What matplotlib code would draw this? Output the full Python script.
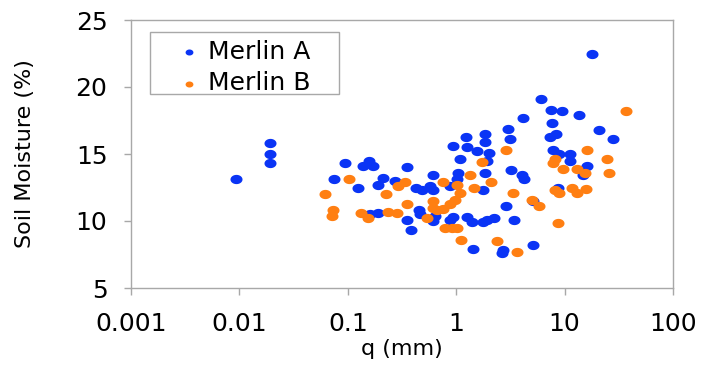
import matplotlib
matplotlib.use('Agg')
import matplotlib.pyplot as plt
import numpy as np
from matplotlib.path import Path
from matplotlib.patches import Rectangle

# Merlin A (blue)
blue_q = [0.0093, 0.019, 0.019, 0.019, 0.094, 0.075, 0.125, 0.137, 0.158, 0.172,
          0.213, 0.189, 0.272, 0.349, 0.426, 0.481, 0.573, 0.615, 0.615, 0.189,
          0.160, 0.349, 0.383, 0.457, 0.607, 17.8, 6.03, 7.50, 9.53, 13.6,
          4.16, 7.60, 20.9, 27.8, 3.03, 3.13, 7.33, 8.33, 1.23, 1.85,
          1.85, 0.93, 1.25, 1.57, 2.0, 1.08, 1.94, 7.76, 8.93, 11.2,
          11.2, 16.2, 14.7, 1.04, 1.01, 1.85, 1.75, 3.2, 4.02, 4.22,
          0.463, 0.637, 0.877, 0.94, 1.25, 1.39, 1.75, 1.94, 2.23, 2.88,
          3.41, 1.42, 2.69, 2.64, 5.14, 5.14, 8.75, 14.4, 0.88]
blue_sm = [13.1, 15.8, 15.0, 14.3, 14.3, 13.1, 12.5, 14.1, 14.5, 14.1,
           13.2, 12.7, 13.0, 14.0, 12.5, 12.3, 12.6, 12.3, 13.4, 10.6,
           10.5, 10.1, 9.3, 10.8, 10.0, 22.5, 19.1, 18.3, 18.2, 17.9,
           17.7, 17.3, 16.8, 16.1, 16.9, 16.1, 16.3, 16.5, 16.3, 16.5,
           15.9, 15.6, 15.5, 15.2, 15.1, 14.6, 14.5, 15.3, 15.0, 15.0,
           14.5, 14.1, 13.4, 13.6, 13.1, 13.6, 12.3, 13.8, 13.4, 13.1,
           10.5, 10.4, 10.1, 10.3, 10.3, 9.9, 9.9, 10.1, 10.2, 11.1,
           10.1, 7.9, 7.8, 7.6, 8.2, 11.5, 12.5, 13.8, 12.6]

# Merlin B (orange)
orange_q = [0.062, 0.073, 0.071, 0.103, 0.132, 0.153, 0.225, 0.237, 0.282, 0.292,
            0.337, 0.349, 0.535, 0.615, 0.615, 36.8, 2.88, 1.72, 16.0, 8.15,
            7.76, 9.73, 12.9, 15.4, 24.4, 25.8, 1.34, 2.08, 1.46, 0.76,
            1.01, 1.08, 0.975, 0.877, 0.76, 0.66, 3.37, 4.97, 5.84, 8.15,
            8.93, 11.6, 12.9, 15.7, 8.75, 0.79, 0.91, 1.01, 1.11, 2.36,
            3.61]
orange_sm = [12.0, 10.8, 10.4, 13.1, 10.6, 10.2, 12.0, 10.7, 10.6, 12.6,
             12.9, 11.3, 10.2, 11.5, 11.0, 18.2, 15.3, 14.4, 15.3, 14.6,
             14.3, 13.9, 13.9, 13.6, 14.6, 13.6, 13.4, 12.9, 12.5, 12.9,
             12.7, 12.1, 11.6, 11.3, 10.9, 10.8, 12.1, 11.6, 11.1, 12.3,
             12.1, 12.5, 12.1, 12.4, 9.85, 9.5, 9.5, 9.5, 8.6, 8.5,
             7.7]

x_ticks = [0.001, 0.01, 0.1, 1, 10, 100]
x_labels = ['0.001', '0.01', '0.1', '1', '10', '100']
y_ticks = [5, 10, 15, 20, 25]

blue = '#0a34f5'
orange = '#ff7f12'
grey = '#a8a8a8'

# slightly wide dots, like the original
t = np.linspace(0, 2 * np.pi, 60)
dot = Path(np.column_stack([1.3 * np.cos(t), np.sin(t)]), closed=True)

fig = plt.figure(figsize=(7.01, 3.66), dpi=100)
ax = fig.add_axes([131 / 701, 1 - 288 / 366, 542 / 701, 268 / 366])

ax.scatter(blue_q, blue_sm, s=75, marker=dot, color=blue, linewidths=0, label='Merlin A')
ax.scatter(orange_q, orange_sm, s=75, marker=dot, color=orange, linewidths=0, label='Merlin B')

ax.set_xscale('log')
ax.set_xlim(0.001, 100)
ax.set_ylim(5, 25)
ax.set_xticks(x_ticks)
ax.set_xticklabels(x_labels)
ax.minorticks_off()
ax.set_yticks(y_ticks)

for sp in ax.spines.values():
    sp.set_color(grey)
    sp.set_linewidth(1.0)
ax.tick_params(axis='both', direction='out', length=5, width=1.0, color=grey,
               labelsize=18)
ax.tick_params(axis='x', pad=12)
ax.tick_params(axis='y', pad=12)

ax.set_xlabel('q (mm)', fontsize=16)
ax.xaxis.set_label_coords(0.5, -0.19)
ax.set_ylabel('Soil Moisture (%)', fontsize=16)
ax.yaxis.set_label_coords(-0.177, 0.5)

# legend: entries without frame, box drawn separately (Excel-style padding)
leg = ax.legend(loc='upper left', bbox_to_anchor=(177 / 701, 1 - 40 / 366),
                bbox_transform=fig.transFigure, borderaxespad=0, borderpad=0,
                frameon=False, fontsize=18, scatterpoints=1, markerscale=0.65,
                handlelength=0.95, handletextpad=0.3, labelspacing=0.3)
fig.patches.append(Rectangle((150 / 701, 1 - 94 / 366), 189 / 701, 62 / 366,
                             transform=fig.transFigure, facecolor='none',
                             edgecolor=grey, linewidth=1.0, zorder=5))

fig.savefig('out.png', dpi=100)
